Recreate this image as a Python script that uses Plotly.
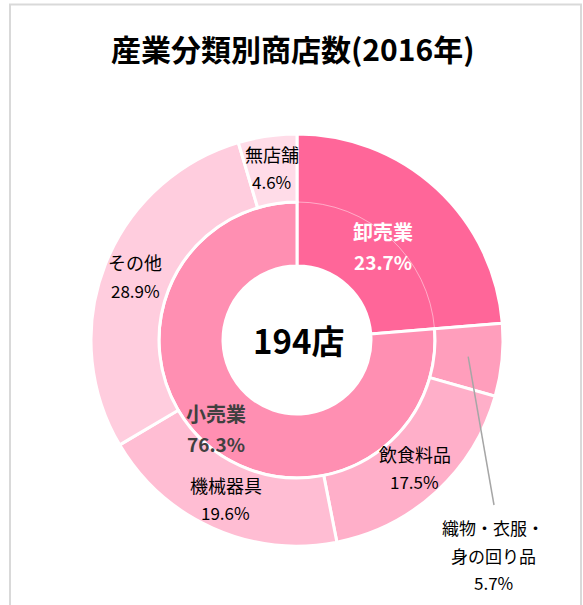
import math
import plotly.graph_objects as go

W, H = 583, 605
FONT = "Noto Sans CJK JP"

# ---- data ----
title_text = "産業分類別商店数(2016年)"
center_text = "194店"
inner_labels = ["卸売業", "小売業"]
inner_values = [23.7, 76.3]
outer_labels = ["卸売業", "織物・衣服・<br>身の回り品", "飲食料品", "機械器具", "その他", "無店舗"]
outer_values = [23.7, 5.7, 17.5, 19.6, 28.9, 4.6]

# ---- styles ----
C_WHOLESALE = "#FF6699"
C_RETAIL = "#FF8FB2"
outer_colors = ["rgba(0,0,0,0)", "#FF9EBC", "#FFAFC9", "#FFBDD3", "#FFCDDE", "#FFDCE8"]
CLEAR = "rgba(0,0,0,0)"

CX, CY = 297, 340
R_OUT, R_MID, R_HOLE = 206, 138, 74


def dom(r):
    return dict(x=[(CX - r) / W, (CX + r) / W], y=[1 - (CY + r) / H, 1 - (CY - r) / H])


def px(x, y):
    return x / W, 1 - y / H


fig = go.Figure()

# wholesale band spanning both rings
fig.add_trace(go.Pie(
    values=inner_values, labels=inner_labels, sort=False, direction="clockwise", rotation=0,
    hole=R_HOLE / R_OUT, domain=dom(R_OUT), textinfo="none", hoverinfo="skip",
    marker=dict(colors=[C_WHOLESALE, CLEAR], line=dict(color=["white", CLEAR], width=[3, 0])),
    showlegend=False,
))
# inner ring
fig.add_trace(go.Pie(
    values=inner_values, labels=inner_labels, sort=False, direction="clockwise", rotation=0,
    hole=R_HOLE / R_MID, domain=dom(R_MID), textinfo="none", hoverinfo="skip",
    marker=dict(colors=[CLEAR, C_RETAIL],
                line=dict(color=["rgba(255,255,255,0.45)", "white"], width=[1, 3])),
    showlegend=False,
))
# outer ring
fig.add_trace(go.Pie(
    values=outer_values, labels=[l.replace("<br>", "") for l in outer_labels], sort=False,
    direction="clockwise", rotation=0,
    hole=R_MID / R_OUT, domain=dom(R_OUT), textinfo="none", hoverinfo="skip",
    marker=dict(colors=outer_colors,
                line=dict(color=[CLEAR] + ["white"] * 5, width=[0] + [3] * 5)),
    showlegend=False,
))

annotations = []


def add_text(x, y, text, size, color, bold=False):
    xx, yy = px(x, y)
    annotations.append(dict(x=xx, y=yy, xref="paper", yref="paper", text=text, showarrow=False,
                            xanchor="center", yanchor="middle",
                            font=dict(family=FONT, size=size, color=color,
                                      weight="bold" if bold else "normal")))


def mid_angle(values, i):
    total = sum(values)
    start = sum(values[:i])
    return 2 * math.pi * (start + values[i] / 2) / total


def polar(theta, r):
    return CX + r * math.sin(theta), CY - r * math.cos(theta)

# title and center
add_text(292, 48, title_text, 30, "black", bold=True)
add_text(299, 340, center_text, 33, "black", bold=True)

# inner labels
inner_style = [("white", 127), ("#404040", 120)]
for i, (lab, v) in enumerate(zip(inner_labels, inner_values)):
    col, r = inner_style[i]
    x, y = polar(mid_angle(inner_values, i), r)
    add_text(x, y - 15, lab, 20, col, bold=True)
    add_text(x, y + 15, f"{v:.1f}%", 19, col, bold=True)

# outer labels (wholesale is labelled in the inner band; textile is external)
for i, (lab, v) in enumerate(zip(outer_labels, outer_values)):
    if i == 0:
        continue
    th = mid_angle(outer_values, i)
    if i == 1:
        sx, sy = polar(th, 172)
        ex, ey = 494, 505
        x0, y0 = px(sx, sy)
        x1, y1 = px(ex, ey)
        fig.add_shape(type="line", xref="paper", yref="paper", x0=x0, y0=y0, x1=x1, y1=y1,
                      line=dict(color="#A6A6A6", width=1.5))
        parts = lab.split("<br>")
        add_text(493, 527, parts[0], 17, "black")
        add_text(493, 555, parts[1], 17, "black")
        add_text(493, 582, f"{v:.1f}%", 17, "black")
        continue
    x, y = polar(th, 174)
    add_text(x, y - 14, lab, 18, "black")
    add_text(x, y + 14, f"{v:.1f}%", 17, "black")

# frame
fx0, fy0 = px(10, 4.5)
fx1, fy1 = px(581, 640)
fig.add_shape(type="rect", xref="paper", yref="paper", x0=fx0, y0=fy1, x1=fx1, y1=fy0,
              line=dict(color="#D9D9D9", width=2), fillcolor="rgba(0,0,0,0)", layer="below")

fig.update_layout(
    width=W, height=H, margin=dict(l=0, r=0, t=0, b=0),
    paper_bgcolor="white", plot_bgcolor="white",
    annotations=annotations, showlegend=False,
    font=dict(family=FONT),
)

fig.write_html("out.html", config={"displayModeBar": False},
               post_script="document.body.style.margin='0';")
